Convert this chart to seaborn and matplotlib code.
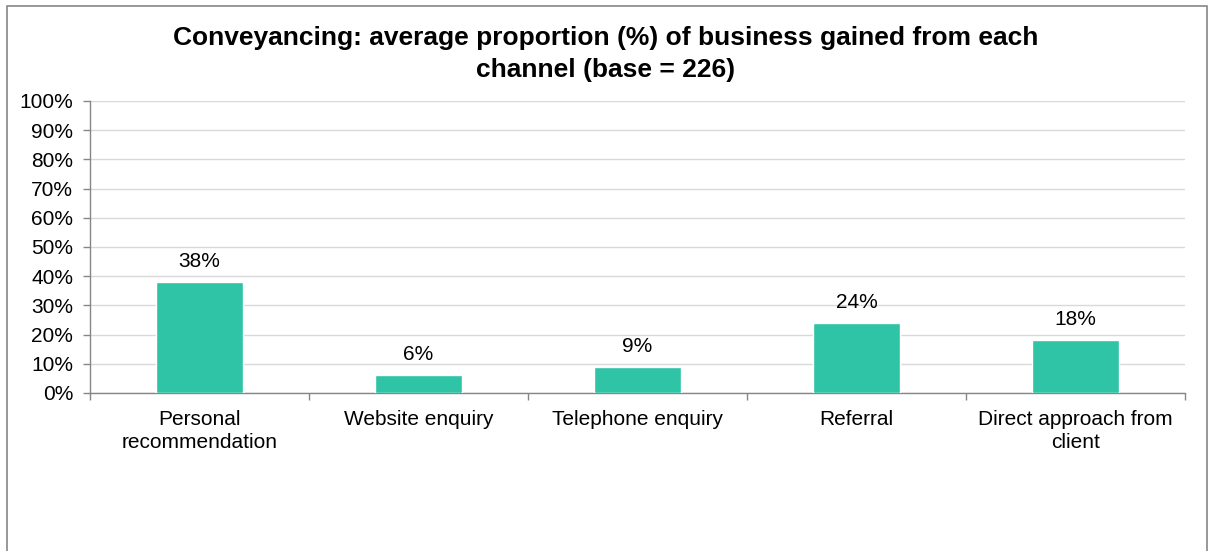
import matplotlib
matplotlib.use("Agg")
import matplotlib.pyplot as plt
from matplotlib.patches import Rectangle
from matplotlib.ticker import MultipleLocator, PercentFormatter
import seaborn as sns
import pandas as pd

categories = ["Personal\nrecommendation", "Website enquiry", "Telephone enquiry",
              "Referral", "Direct approach from\nclient"]
values = [38, 6, 9, 24, 18]
title = "Conveyancing: average proportion (%) of business gained from each\nchannel (base = 226)"

sns.set_theme(style="white")
plt.rcParams["font.family"] = ["Liberation Sans", "DejaVu Sans"]
plt.rcParams["text.color"] = "black"

bar_color = "#2EC4A5"
grid_color = "#D9D9D9"
axis_color = "#868686"
label_size = 15

df = pd.DataFrame({"channel": categories, "share": values})

fig = plt.figure(figsize=(12.12, 5.51), dpi=100)
ax = fig.add_axes([90 / 1212, 1 - 393 / 551, (1185 - 90) / 1212, (393 - 101) / 551])

sns.barplot(data=df, x="channel", y="share", color=bar_color, width=0.4,
            saturation=1, ax=ax, zorder=3)

ax.set_ylim(0, 100)
ax.set_xlim(-0.5, len(categories) - 0.5)
ax.yaxis.set_major_locator(MultipleLocator(10))
ax.yaxis.set_major_formatter(PercentFormatter(decimals=0))
ax.grid(axis="y", color=grid_color, linewidth=1, zorder=0)
ax.set_axisbelow(True)
ax.set_xlabel("")
ax.set_ylabel("")

for side in ["top", "right"]:
    ax.spines[side].set_visible(False)
for side in ["left", "bottom"]:
    ax.spines[side].set_color(axis_color)
    ax.spines[side].set_linewidth(1)

ax.tick_params(axis="y", which="major", left=True, length=5, width=1,
               color=axis_color, labelsize=label_size, labelcolor="black", pad=7)
ax.tick_params(axis="x", which="major", bottom=False, labelsize=label_size,
               labelcolor="black", pad=6)
for lbl in ax.get_xticklabels():
    lbl.set_linespacing(1.3)
# category boundary ticks on the x axis
ax.set_xticks([i - 0.5 for i in range(len(categories) + 1)], minor=True)
ax.tick_params(axis="x", which="minor", bottom=True, length=5, width=1,
               color=axis_color, direction="out")

for i, v in enumerate(values):
    ax.text(i, v + 3.8, f"{v}%", ha="center", va="bottom", fontsize=label_size,
            color="black")

fig.text(0.5, 1 - 54 / 551, title, ha="center", va="center", fontsize=19,
         fontweight="bold", linespacing=1.38, color="black")

# outer chart frame
fig.patches.append(Rectangle((7 / 1212, -0.01), (1207 - 7) / 1212, (551 - 6) / 551 + 0.01,
                             transform=fig.transFigure, fill=False,
                             edgecolor=axis_color, linewidth=1.2))

fig.savefig("out.png", dpi=100)
